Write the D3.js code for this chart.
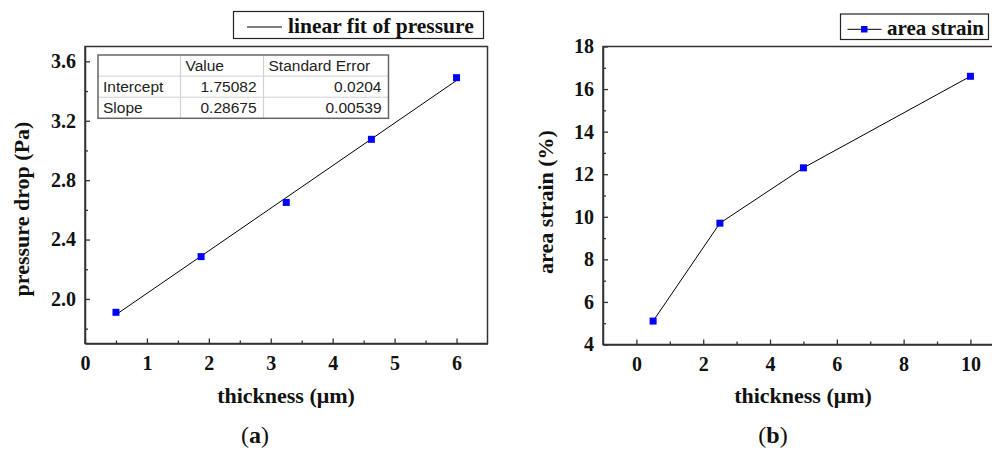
<!DOCTYPE html>
<html>
<head>
<meta charset="utf-8">
<script src="https://cdn.jsdelivr.net/npm/d3@7"></script>
<style>
  body { margin: 0; background: #fff; }
  svg { display: block; }
</style>
</head>
<body>
<div id="chart"></div>
<script>
// dados do painel (a)
const pressX = [0.5, 1.875, 3.25, 4.625, 6];
const pressY = [1.91, 2.285, 2.65, 3.075, 3.49];
const fitIntercept = 1.75082;
const fitSlope = 0.28675;
const tableHeader = ["", "Value", "Standard Error"];
const tableRows = [
  ["Intercept", "1.75082", "0.0204"],
  ["Slope", "0.28675", "0.00539"]
];
const pressXTicks = [0, 1, 2, 3, 4, 5, 6];
const pressYTicks = [2.0, 2.4, 2.8, 3.2, 3.6];

// dados do painel (b)
const strainX = [0.5, 2.5, 5, 10];
const strainY = [5.1, 9.7, 12.3, 16.6];
const strainXTicks = [0, 2, 4, 6, 8, 10];
const strainYTicks = [4, 6, 8, 10, 12, 14, 16, 18];

const W = 992, H = 450;
const svg = d3.select("#chart").append("svg").attr("width", W).attr("height", H);

const serif = '"Liberation Serif", "Times New Roman", serif';
const sans = '"Liberation Sans", Arial, sans-serif';
const frameColor = "#333";
const blue = "#0000ff";

function styleTicks(a) {
  a.selectAll(".tick text")
    .attr("font-family", serif).attr("font-weight", "bold")
    .attr("font-size", 20).attr("fill", "#111");
}

// desenha eixos com ticks para dentro
function drawAxes(g, x, y, xTicks, yTicks, xMinor, yMinor, fmtY) {
  const [x0, x1] = x.range();
  const [y0, y1] = y.range(); // y0 = bottom

  // moldura
  g.append("rect")
    .attr("x", x0).attr("y", y1)
    .attr("width", x1 - x0).attr("height", y0 - y1)
    .attr("fill", "none").attr("stroke", frameColor).attr("stroke-width", 1.5);

  const xAxis = g.append("g").attr("transform", `translate(0,${y0})`)
    .call(d3.axisBottom(x).tickValues(xTicks).tickSizeInner(-5).tickSizeOuter(0).tickPadding(12).tickFormat(d3.format("d")));
  xAxis.select(".domain").attr("stroke", frameColor).attr("stroke-width", 1.5);
  xAxis.selectAll(".tick line").attr("stroke", frameColor).attr("stroke-width", 1.3);
  styleTicks(xAxis);

  g.append("g").attr("transform", `translate(0,${y0})`)
    .call(d3.axisBottom(x).tickValues(xMinor).tickSize(-3).tickFormat(""))
    .call(a => a.select(".domain").remove())
    .selectAll(".tick line").attr("stroke", frameColor).attr("stroke-width", 1.3);

  const yAxis = g.append("g").attr("transform", `translate(${x0},0)`)
    .call(d3.axisLeft(y).tickValues(yTicks).tickSizeInner(-5).tickSizeOuter(0).tickPadding(9).tickFormat(fmtY));
  yAxis.select(".domain").attr("stroke", frameColor).attr("stroke-width", 1.5);
  yAxis.selectAll(".tick line").attr("stroke", frameColor).attr("stroke-width", 1.3);
  styleTicks(yAxis);

  g.append("g").attr("transform", `translate(${x0},0)`)
    .call(d3.axisLeft(y).tickValues(yMinor).tickSize(-3).tickFormat(""))
    .call(a => a.select(".domain").remove())
    .selectAll(".tick line").attr("stroke", frameColor).attr("stroke-width", 1.3);
}

function axisTitles(g, xLabel, xc, yLabel, yx, yc, panel, px) {
  g.append("text").attr("x", xc).attr("y", 403)
    .attr("text-anchor", "middle").attr("font-family", serif).attr("font-weight", "bold")
    .attr("font-size", 22).attr("fill", "#111").text(xLabel);
  g.append("text").attr("transform", `translate(${yx},${yc}) rotate(-90)`)
    .attr("text-anchor", "middle").attr("font-family", serif).attr("font-weight", "bold")
    .attr("font-size", 22).attr("fill", "#111").text(yLabel);
  const t = g.append("text").attr("x", px).attr("y", 443)
    .attr("text-anchor", "middle").attr("font-family", serif)
    .attr("font-size", 24).attr("fill", "#111");
  t.append("tspan").text("(");
  t.append("tspan").attr("font-weight", "bold").text(panel);
  t.append("tspan").text(")");
}

// ---------- painel (a) ----------
const ga = svg.append("g");
const xa = d3.scaleLinear().domain([0, 6.5]).range([85, 487.5]);
const ya = d3.scaleLinear().domain([1.7, 3.7]).range([343.5, 46.5]);

drawAxes(ga, xa, ya, pressXTicks, pressYTicks,
  [0.5, 1.5, 2.5, 3.5, 4.5, 5.5], [1.8, 2.2, 2.6, 3.0, 3.4], d3.format(".1f"));

// linha de ajuste
const fitX = [d3.min(pressX), d3.max(pressX)];
ga.append("line")
  .attr("x1", xa(fitX[0])).attr("y1", ya(fitIntercept + fitSlope * fitX[0]))
  .attr("x2", xa(fitX[1])).attr("y2", ya(fitIntercept + fitSlope * fitX[1]))
  .attr("stroke", "#000").attr("stroke-width", 1);

ga.selectAll("rect.pt").data(pressX).enter().append("rect")
  .attr("class", "pt")
  .attr("x", d => xa(d) - 3.5).attr("y", (d, i) => ya(pressY[i]) - 3.5)
  .attr("width", 7).attr("height", 7).attr("fill", blue);

// tabela de parâmetros
const tbl = { x: 98, y: 55, colW: [82.5, 83, 125], rowH: 21.1 };
const tg = ga.append("g");
const allRows = [tableHeader].concat(tableRows);
const tw = d3.sum(tbl.colW), th = tbl.rowH * allRows.length;
tg.append("rect").attr("x", tbl.x).attr("y", tbl.y).attr("width", tw).attr("height", th)
  .attr("fill", "#fff").attr("stroke", "none");
// linhas internas
for (let r = 1; r < allRows.length; r++) {
  tg.append("line").attr("x1", tbl.x).attr("x2", tbl.x + tw)
    .attr("y1", tbl.y + r * tbl.rowH).attr("y2", tbl.y + r * tbl.rowH)
    .attr("stroke", "#d0d0d0").attr("stroke-width", 1);
}
let cx = tbl.x;
const colX = [];
tbl.colW.forEach((w, i) => {
  colX.push(cx);
  if (i > 0) tg.append("line").attr("x1", cx).attr("x2", cx).attr("y1", tbl.y).attr("y2", tbl.y + th)
    .attr("stroke", "#d0d0d0").attr("stroke-width", 1.2);
  cx += w;
});
tg.append("rect").attr("x", tbl.x).attr("y", tbl.y).attr("width", tw).attr("height", th)
  .attr("fill", "none").attr("stroke", "#666").attr("stroke-width", 1.5);
allRows.forEach((row, r) => {
  row.forEach((cell, c) => {
    const right = r > 0 && c > 0;
    tg.append("text")
      .attr("x", right ? colX[c] + tbl.colW[c] - 7 : colX[c] + 5)
      .attr("y", tbl.y + r * tbl.rowH + 16)
      .attr("text-anchor", right ? "end" : "start")
      .attr("font-family", sans).attr("font-size", 15.5).attr("fill", "#222")
      .text(cell);
  });
});

// legenda (a)
const la = ga.append("g");
la.append("rect").attr("x", 233.5).attr("y", 11.5).attr("width", 250).attr("height", 27)
  .attr("fill", "#fff").attr("stroke", "#222").attr("stroke-width", 1.2);
la.append("line").attr("x1", 247).attr("x2", 282).attr("y1", 27).attr("y2", 27)
  .attr("stroke", "#000").attr("stroke-width", 1);
la.append("text").attr("x", 288).attr("y", 33).attr("font-family", serif).attr("font-weight", "bold")
  .attr("font-size", 21.5).attr("fill", "#111").text("linear fit of pressure");

axisTitles(ga, "thickness (μm)", 286, "pressure drop (Pa)", 29, 209, "a", 255);

// ---------- painel (b) ----------
const gb = svg.append("g");
const xb = d3.scaleLinear().domain([-1, 10.7]).range([603, 993.8]);
const yb = d3.scaleLinear().domain([4, 18]).range([344.5, 46.5]);

drawAxes(gb, xb, yb, strainXTicks, strainYTicks,
  [1, 3, 5, 7, 9], [5, 7, 9, 11, 13, 15, 17], d3.format("d"));

gb.append("path")
  .datum(strainX.map((d, i) => [d, strainY[i]]))
  .attr("fill", "none").attr("stroke", "#000").attr("stroke-width", 1)
  .attr("d", d3.line().x(d => xb(d[0])).y(d => yb(d[1])));

gb.selectAll("rect.pt").data(strainX).enter().append("rect")
  .attr("class", "pt")
  .attr("x", d => xb(d) - 3.5).attr("y", (d, i) => yb(strainY[i]) - 3.5)
  .attr("width", 7).attr("height", 7).attr("fill", blue);

// legenda (b)
const lb = gb.append("g");
lb.append("rect").attr("x", 840.5).attr("y", 14).attr("width", 148).attr("height", 25.5)
  .attr("fill", "#fff").attr("stroke", "#222").attr("stroke-width", 1.2);
lb.append("line").attr("x1", 847.5).attr("x2", 881.5).attr("y1", 29.3).attr("y2", 29.3)
  .attr("stroke", "#000").attr("stroke-width", 1);
lb.append("rect").attr("x", 861).attr("y", 26).attr("width", 6.5).attr("height", 6.5).attr("fill", blue);
lb.append("text").attr("x", 887).attr("y", 35).attr("font-family", serif).attr("font-weight", "bold")
  .attr("font-size", 21).attr("fill", "#111").text("area strain");

axisTitles(gb, "thickness (μm)", 803, "area strain (%)", 553, 202, "b", 773);
</script>
</body>
</html>
